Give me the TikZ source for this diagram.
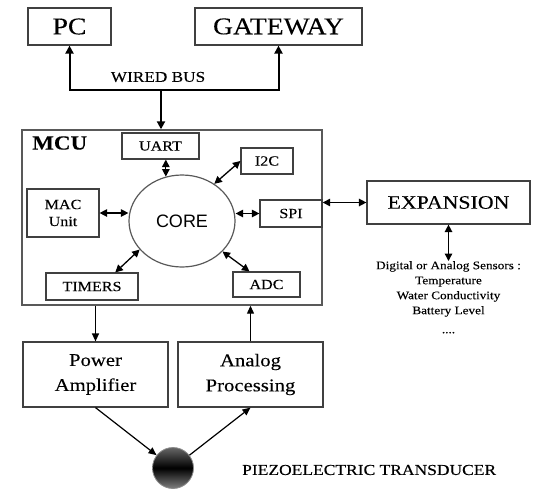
\documentclass[tikz,border=0pt]{standalone}
\usepackage{fontspec}
\setmainfont{Liberation Serif}[FakeBold=0.15]
\newfontfamily\sansf{Liberation Sans}
\usetikzlibrary{arrows.meta,shapes.geometric,calc}
\newcommand{\W}[1]{\scalebox{1.15}[1]{#1}}
\begin{document}
\begin{tikzpicture}[x=1pt,y=-1pt,
  box/.style={draw=black!75,line width=1.2pt,inner sep=0pt,align=center},
  arr/.style={line width=1.2pt,-{Triangle[length=8pt,width=7pt]}},
  busarr/.style={line width=2pt,-{Triangle[length=8pt,width=8pt]}},
  darr/.style={line width=1.3pt,{Triangle[length=7.5pt,width=7.5pt]}-{Triangle[length=7.5pt,width=7.5pt]}}]
\useasboundingbox (0,0) rectangle (540,490);
% top
\node[box,minimum width=83pt,minimum height=37pt,font=\fontsize{24}{28}\selectfont] (pc) at (69.5,26.5) {\W{PC}};
\node[box,minimum width=167pt,minimum height=37pt,font=\fontsize{24}{28}\selectfont] (gw) at (278.5,26.5) {\W{GATEWAY}};
% MCU
\node[box,draw=black!65,line width=1.4pt,minimum width=300pt,minimum height=175pt] (mcu) at (172,217.5) {};
\node[anchor=west,font=\bfseries\fontsize{20}{24}\selectfont,inner sep=0pt] (mcul) at (32,143) {\W{MCU}};
\coordinate (bj) at (161,90);
\node[font=\fontsize{15}{18}\selectfont,inner sep=0pt] (wb) at (158,77) {\W{WIRED BUS}};
\draw[busarr] (bj) -- (mcu.north -| bj);
\draw[busarr] (bj) -| (pc.south);
\draw[busarr] (bj) -| (gw.south);
% inside
\node[box,minimum width=77pt,minimum height=26pt,font=\fontsize{14}{16}\selectfont] (uart) at (160.5,146) {\W{UART}};
\node[box,minimum width=52pt,minimum height=26pt,font=\fontsize{14}{16}\selectfont] (i2c) at (267,161) {\W{I2C}};
\node[box,minimum width=72pt,minimum height=48pt,font=\fontsize{14}{17}\selectfont] (mac) at (63,213) {\W{MAC}\\\W{Unit}};
\node[box,minimum width=62pt,minimum height=27pt,font=\fontsize{14}{16}\selectfont] (spi) at (291,213.5) {\W{SPI}};
\node[box,minimum width=92pt,minimum height=27pt,font=\fontsize{14}{16}\selectfont] (tim) at (92,286.5) {\W{TIMERS}};
\node[box,minimum width=67pt,minimum height=25pt,font=\fontsize{14}{16}\selectfont] (adc) at (266.5,284.5) {\W{ADC}};
\node[ellipse,draw=black!65,line width=1.2pt,minimum width=106pt,minimum height=92pt,inner sep=0pt,font=\sansf\fontsize{18}{20}\selectfont] (core) at (182,221) {CORE};
\draw[darr] (uart.south -| core.110) -- (core.110);
\draw[darr] (i2c.west) -- (core.49);
\draw[darr] (mac.east) -- (mac.east -| core.west);
\draw[darr] (spi.west) -- (spi.west -| core.east);
\draw[darr] ($(tim.north)!0.5!(tim.north east)$) -- (core.214);
\draw[darr] ($(adc.north)!0.5!(adc.north west)$) -- (core.323);
% expansion
\node[box,minimum width=163pt,minimum height=43pt,font=\fontsize{19}{22}\selectfont] (exp) at (448.5,202.5) {\W{EXPANSION}};
\draw[darr,line width=1.4pt] (exp.west -| mcu.east) -- (exp.west);
\node[anchor=north,align=center,inner sep=0pt,font=\fontsize{11.5}{15}\selectfont] (sens) at (448.5,261) {\W{Digital or Analog Sensors :}\\\W{Temperature}\\\W{Water Conductivity}\\\W{Battery Level}\\[4pt]\W{....}};
\draw[darr,line width=1.4pt] (exp.south) -- (sens.north);
% bottom
\node[box,minimum width=145pt,minimum height=65pt,font=\fontsize{18}{25}\selectfont] (pa) at (95.5,374.5) {\W{Power}\\\W{Amplifier}};
\node[box,minimum width=145pt,minimum height=65pt,font=\fontsize{18}{25}\selectfont] (ap) at (250.5,374.5) {\W{Analog}\\\W{Processing}};
\draw[arr] (mcu.south -| pa.north) -- (pa.north);
\draw[arr] (ap.north) -- (ap.north |- mcu.south);
\node[circle,minimum size=41pt,inner sep=0pt,draw=black!45,line width=0.8pt,shading=axis,top color=black!60,bottom color=black!50,middle color=black] (tr) at (173,468) {};
\draw[arr] (pa.south) -- (tr);
\draw[arr] (tr) -- (ap.south);
\node[anchor=west,inner sep=0pt,font=\fontsize{15.2}{18}\selectfont] (trl) at (242,470) {\W{PIEZOELECTRIC TRANSDUCER}};
\end{tikzpicture}
\end{document}
